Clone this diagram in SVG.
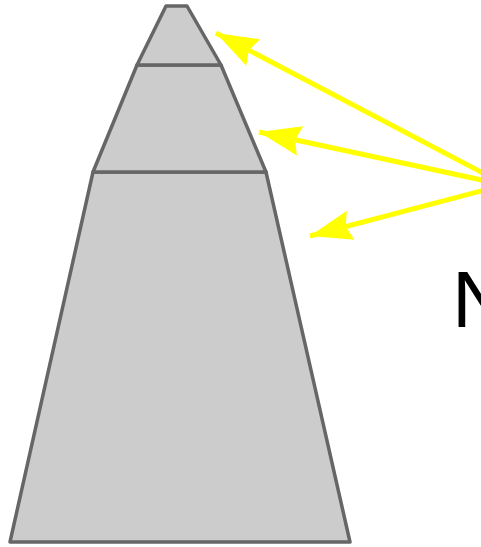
<svg xmlns="http://www.w3.org/2000/svg" width="481" height="547" viewBox="0 0 481 547">
<style>
.sec{fill:#cccccc;stroke:#666666;stroke-width:3.5;stroke-linejoin:round}
.arr{stroke:#ffff00;stroke-width:5;fill:none}
.lbl{font-family:"Liberation Sans",Arial,sans-serif;font-size:80px;fill:#000}
</style>
<defs>
<marker id="ah" markerUnits="userSpaceOnUse" markerWidth="44" markerHeight="32" refX="42" refY="15" orient="auto" overflow="visible">
<path d="M0,0 L42,15 L0,30 L5,15 Z" fill="#ffff00"/>
</marker>
</defs>
<g id="bottom"><polygon class="sec" points="93,172 266,172 350,542 10,542"/></g>
<g id="middle"><polygon class="sec" points="137,65 221,65 266,172 93,172"/></g>
<g id="top"><polygon class="sec" points="166,6 187,6 221,65 137,65"/></g>
<g id="connectors">
<line class="arr" x1="500" y1="182" x2="216" y2="33" marker-end="url(#ah)"/>
<line class="arr" x1="500" y1="184" x2="259" y2="132" marker-end="url(#ah)"/>
<line class="arr" x1="500" y1="186" x2="310" y2="236" marker-end="url(#ah)"/>
</g>
<text class="lbl" x="452" y="327">N</text>
</svg>
